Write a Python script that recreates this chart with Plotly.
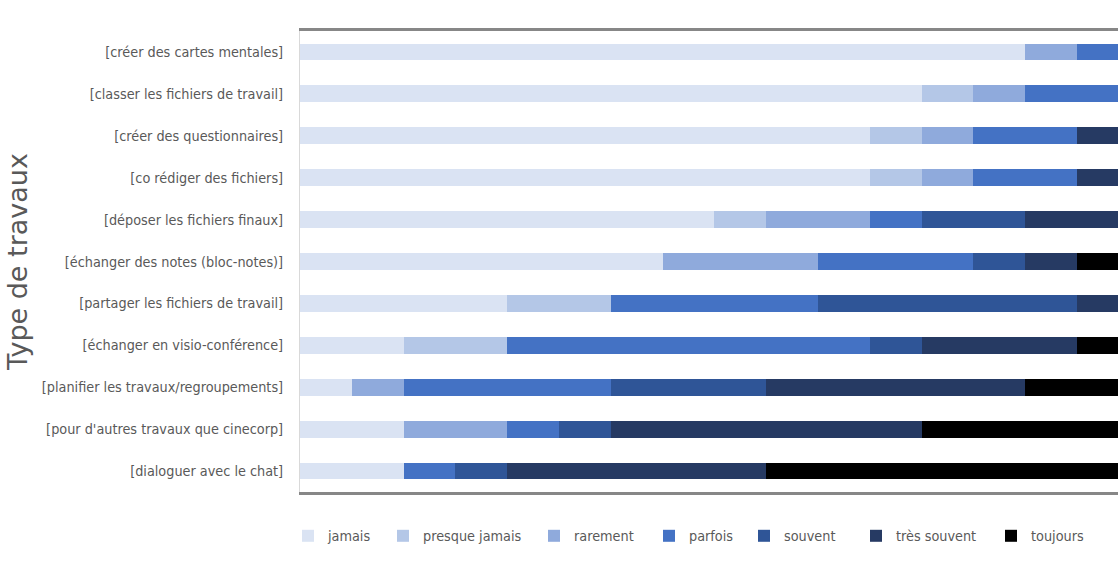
import plotly.graph_objects as go

categories = [
    "[créer des cartes mentales]",
    "[classer les fichiers de travail]",
    "[créer des questionnaires]",
    "[co rédiger des fichiers]",
    "[déposer les fichiers finaux]",
    "[échanger des notes (bloc-notes)]",
    "[partager les fichiers de travail]",
    "[échanger en visio-conférence]",
    "[planifier les travaux/regroupements]",
    "[pour d'autres travaux que cinecorp]",
    "[dialoguer avec le chat]",
]

series_names = ["jamais", "presque jamais", "rarement", "parfois", "souvent", "très souvent", "toujours"]

jamais         = [14, 12, 11, 11, 8, 7, 4, 2, 1, 2, 2]
presque_jamais = [0, 1, 1, 1, 1, 0, 2, 2, 0, 0, 0]
rarement       = [1, 1, 1, 1, 2, 3, 0, 0, 1, 2, 0]
parfois        = [1, 2, 2, 2, 1, 3, 4, 7, 4, 1, 1]
souvent        = [0, 0, 0, 0, 2, 1, 5, 1, 3, 1, 1]
tres_souvent   = [0, 0, 1, 1, 2, 1, 1, 3, 5, 6, 5]
toujours       = [0, 0, 0, 0, 0, 1, 0, 1, 2, 4, 7]

series_values = [jamais, presque_jamais, rarement, parfois, souvent, tres_souvent, toujours]
colors = ["#dae3f3", "#b4c7e7", "#8faadc", "#4472c4", "#2f5597", "#263a63", "#000000"]

# legend text start positions (page px) as in the reference
legend_text_x = [329, 424, 575, 690, 785, 897, 1032]

font_narrow = "Liberation Sans Narrow, DejaVu Sans Condensed, Arial Narrow, sans-serif"
FS = 14.3

W, H = 1118, 567
L, T, B, R = 300, 31, 75, 0
plot_w = W - L - R
plot_h = H - T - B
plot_left_page = L

fig = go.Figure()
legend_layouts = {}
for i, (name, vals, col) in enumerate(zip(series_names, series_values, colors)):
    lg = "legend" if i == 0 else f"legend{i+1}"
    fig.add_trace(go.Bar(
        y=categories, x=vals, name=name, orientation="h",
        marker=dict(color=col, line=dict(width=0)),
        legend=lg,
    ))
    legend_layouts[lg] = dict(
        orientation="h",
        x=(legend_text_x[i] - 41 - plot_left_page) / plot_w, xanchor="left",
        y=-44 / plot_h, yanchor="middle",
        font=dict(family=font_narrow, size=FS, color="#595959"),
        itemwidth=30, bgcolor="rgba(0,0,0,0)",
    )

fig.update_layout(
    barmode="stack",
    bargap=0.6,
    width=W, height=H,
    margin=dict(l=L, r=R, t=T, b=B),
    plot_bgcolor="white", paper_bgcolor="white",
    font=dict(family=font_narrow, size=FS, color="#595959"),
    showlegend=True,
    **legend_layouts,
)
fig.update_xaxes(
    range=[0, 15.79], showticklabels=False, showgrid=False, zeroline=False,
    showline=True, linecolor="#878787", linewidth=3, mirror=True, ticks="",
)
fig.update_yaxes(
    categoryorder="array", categoryarray=categories[::-1],
    showgrid=False, zeroline=False, showline=True, linecolor="#d9d9d9", linewidth=1,
    ticks="", ticklabelstandoff=13,
    title=dict(text="Type de travaux", font=dict(family="DejaVu Sans, sans-serif", size=27, color="#595959"), standoff=6),
)

page_css = (
    "document.documentElement.style.margin='0';"
    "document.documentElement.style.overflow='hidden';"
    "document.body.style.margin='0';"
    "document.body.style.overflow='hidden';"
)

fig.write_html("out.html", post_script=page_css, config={"displayModeBar": False})
